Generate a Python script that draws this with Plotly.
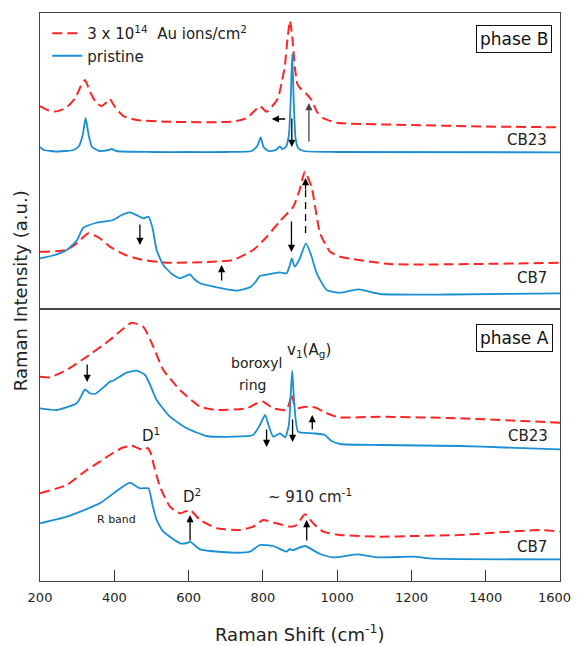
import plotly.graph_objects as go

# ---------------- data (Raman shift in cm^-1, intensity in arbitrary units) ----------------
# Phase B, CB23
b23_pr_x = [200, 210, 250, 290, 305, 315, 323, 331, 340, 360, 385, 393, 405, 500, 600, 700, 770, 785, 794, 802,
            815, 835, 846, 852, 862, 870, 875, 879, 883, 888, 895, 910, 1000, 1600]
b23_pr_y = [162, 159, 157.5, 159, 163, 174, 191, 174, 162, 158, 159, 160, 158, 157, 157, 157, 158, 163, 171.5, 162,
            158, 159, 162.5, 160, 162, 174, 209, 255, 209, 171, 161, 158, 157, 156.7]
b23_irr_x = [200, 220, 240, 270, 295, 310, 321, 335, 350, 365, 380, 388, 400, 424, 460, 540, 720, 757, 780, 792,
             810, 828, 841, 852, 859, 866, 873, 880, 886, 893, 900, 915, 931, 946, 962, 999, 1200, 1400, 1600]
b23_irr_y = [203, 199, 197.5, 201, 211, 223, 229, 217, 207, 203, 207, 210, 203, 193, 189, 187.3, 187.3, 191, 199, 203,
             197.3, 204, 211, 229, 242, 269, 288.3, 269, 242, 225, 221, 216, 209, 197, 191, 186.3, 184, 182.5, 181.7]

# Phase B, CB7
b7_pr_x = [200, 240, 272, 300, 316, 350, 397, 420, 442, 465, 478, 492, 503, 514, 532, 555, 577, 592, 604, 615,
           631, 676, 729, 765, 780, 792, 820, 846, 864, 872, 878, 886, 900, 916, 930, 945, 972, 1008, 1057, 1115,
           1300, 1600]
b7_pr_y = [50.7, 54, 59, 69, 81, 86, 89, 94, 96.7, 93, 90.7, 92.3, 81, 59, 44, 35, 30.7, 33, 34.7, 30,
           25.7, 21.7, 18.3, 21.7, 27, 33, 35, 36.7, 35.7, 43, 50.7, 42.3, 51, 65.7, 54, 35.7, 19, 16.3, 19.7, 15,
           14.5, 15.7]
b7_irr_x = [200, 272, 300, 330, 360, 388, 430, 469, 541, 650, 720, 774, 810, 846, 882, 899, 913, 931, 954, 981,
            1008, 1142, 1600]
b7_irr_y = [57.3, 59, 66, 75.7, 71, 62.3, 54, 49.7, 46.3, 47, 49, 59, 72, 88, 102.3, 119, 137.3, 122.3, 75.7, 57.3,
            52.3, 45, 46.3]

# Phase A, CB23
a23_pr_x = [200, 245, 299, 315, 321, 333, 348, 375, 388, 397, 433, 460, 483, 500, 514, 550, 595, 649, 720, 774,
            792, 806, 815, 828, 846, 860, 870, 875, 879, 884, 895, 936, 967, 985, 1008, 1115, 1330, 1450, 1600]
a23_pr_y = [172.7, 171, 177.7, 188, 191.7, 188, 187, 195, 199.3, 200.3, 208.3, 210.3, 206, 193, 181, 164.3, 152.7,
            145, 144.3, 146, 156, 166, 156, 144.3, 147.7, 143.7, 156, 186, 210.3, 181, 149.3, 147.7, 146, 140, 137,
            136, 135, 133.5, 131.7]
a23_irr_x = [200, 227, 272, 326, 388, 420, 447, 478, 505, 532, 577, 631, 676, 756, 780, 801, 828, 864, 872, 878,
             884, 891, 910, 927, 945, 963, 1003, 1115, 1330, 1600]
a23_irr_y = [204.3, 203.7, 211, 224.3, 241, 251, 258.3, 254.3, 234.3, 211, 191, 174.3, 171, 172.7, 177, 179.3, 172.7,
             171, 179, 187, 177, 172.7, 174, 174.3, 173, 169.3, 163.7, 164.3, 162.7, 158.3]

# Phase A, CB7
a7_pr_x = [200, 272, 361, 410, 442, 469, 492, 503, 514, 532, 577, 596, 604, 631, 720, 765, 792, 828, 864, 872,
           877, 882, 913, 954, 990, 1057, 1106, 1205, 1259, 1600]
a7_pr_y = [57.7, 64.3, 77.7, 91, 98.3, 92.7, 92.7, 76, 61, 49.3, 37.7, 38, 39.3, 31.7, 28.3, 29.3, 36, 35, 29.3, 32,
           31, 31, 35, 27, 23.7, 26.7, 23.7, 24.3, 22.3, 21.7]
a7_irr_x = [200, 272, 326, 361, 388, 420, 447, 470, 480, 490, 500, 505, 523, 550, 577, 604, 631, 676, 738, 774,
            801, 836, 873, 891, 913, 940, 963, 1008, 1115, 1205, 1328, 1400, 1546, 1600]
a7_irr_y = [87.7, 96, 111, 119.3, 126, 133, 135.3, 132, 131, 133, 126, 117.7, 94.3, 74.3, 67.7, 71, 61, 52.7, 51, 54.3,
            61, 57.7, 54.3, 56, 66.7, 56, 49.3, 46, 44.3, 45, 46, 47.7, 51, 49.3]

x_ticks = [200, 400, 600, 800, 1000, 1200, 1400, 1600]
x_tick_labels = ["200", "400", "600", "800", "1000", "1200", "1400", "1600"]
legend_irr = "3 x 10<sup>14</sup>  Au ions/cm<sup>2</sup>"
legend_pr = "pristine"

RED = "#ff2424"
BLUE = "#1b8fd4"
FONT = "DejaVu Sans"

fig = go.Figure()

def add(x, y, irr, xa, ya, show):
    fig.add_trace(go.Scatter(
        x=x, y=y, mode="lines", xaxis=xa, yaxis=ya,
        name=legend_irr if irr else legend_pr,
        legendgroup="irr" if irr else "pr", showlegend=show,
        line=dict(color=RED if irr else BLUE, width=2 if irr else 1.8,
                  dash="10px,5px" if irr else "solid", shape="spline", smoothing=0.5),
        hoverinfo="skip"))

add(b23_irr_x, b23_irr_y, True, "x2", "y2", True)
add(b23_pr_x, b23_pr_y, False, "x2", "y2", True)
add(b7_irr_x, b7_irr_y, True, "x2", "y2", False)
add(b7_pr_x, b7_pr_y, False, "x2", "y2", False)
add(a23_irr_x, a23_irr_y, True, "x", "y", False)
add(a23_pr_x, a23_pr_y, False, "x", "y", False)
add(a7_irr_x, a7_irr_y, True, "x", "y", False)
add(a7_pr_x, a7_pr_y, False, "x", "y", False)

annotations = []

def arrow(xh, yh, xt, yt, xa, ya, color="black"):
    annotations.append(dict(x=xh, y=yh, ax=xt, ay=yt, xref=xa, yref=ya, axref=xa, ayref=ya,
                            showarrow=True, arrowhead=2, arrowsize=1.1, arrowwidth=1.3,
                            arrowcolor=color, text=""))

def label(x, y, text, xa, ya, size=14):
    annotations.append(dict(x=x, y=y, xref=xa, yref=ya, text=text, showarrow=False,
                            xanchor="center", yanchor="middle",
                            font=dict(family=FONT, size=size, color="#222")))

# phase B arrows
arrow(824, 190, 864, 190, "x2", "y2")
arrow(878, 162, 878, 192, "x2", "y2")
arrow(924, 206, 924, 166, "x2", "y2", "#444")
arrow(469, 64, 469, 86, "x2", "y2")
arrow(689, 44, 689, 27, "x2", "y2")
arrow(877, 57, 877, 89, "x2", "y2")
arrow(915, 131, 915, 118, "x2", "y2")
# phase A arrows
arrow(327, 199, 327, 218, "x", "y")
arrow(810, 134, 810, 153, "x", "y")
arrow(880, 139, 880, 163, "x", "y")
arrow(933, 166, 933, 150, "x", "y")
arrow(604, 66, 604, 39, "x", "y")
arrow(918, 61, 918, 39, "x", "y")

# labels
label(1511, 169, "CB23", "x2", "y2", 15)
label(1524, 31, "CB7", "x2", "y2", 15)
label(1514, 145, "CB23", "x", "y", 15)
label(1524, 34, "CB7", "x", "y", 15)
label(783, 218, "boroxyl", "x", "y")
label(773, 196, "ring", "x", "y")
label(924, 231, "v<sub>1</sub>(A<sub>g</sub>)", "x", "y", 15)
label(499, 146, "D<sup>1</sup>", "x", "y", 15)
label(609, 85, "D<sup>2</sup>", "x", "y", 15)
label(407, 62, "R band", "x", "y", 11)
label(927, 85, "~ 910 cm<sup>-1</sup>", "x", "y", 15)

# the last tick label sits at the figure edge; draw it right-aligned so it stays visible
annotations.append(dict(x=x_ticks[-1], y=0, xref="x", yref="paper", text=x_tick_labels[-1], showarrow=False,
                        xanchor="right", yanchor="middle", xshift=13, yshift=-16,
                        font=dict(family=FONT, size=13, color="#222")))
shown_tick_labels = x_tick_labels[:-1] + [""]

# phase boxes
for txt, yp in (("phase B", 0.954), ("phase A", 0.428)):
    annotations.append(dict(x=0.912, y=yp, xref="paper", yref="paper", text=txt, showarrow=False,
                            xanchor="center", yanchor="middle",
                            font=dict(family=FONT, size=17, color="#111"),
                            bordercolor="#111", borderwidth=1, borderpad=3, bgcolor="white"))

# axis titles
annotations.append(dict(x=-0.0385, y=0.512, xref="paper", yref="paper", text="Raman Intensity (a.u.)",
                        xanchor="center", yanchor="middle",
                        textangle=-90, showarrow=False, font=dict(family=FONT, size=18, color="#222")))
annotations.append(dict(x=0.5, y=-0.092, xref="paper", yref="paper", text="Raman Shift (cm<sup>-1</sup>)",
                        xanchor="center", yanchor="middle",
                        showarrow=False, font=dict(family=FONT, size=18, color="#222")))

shapes = [dict(type="line", xref="x2", yref="y2", x0=915, x1=915, y0=76, y1=122,
               line=dict(color="black", width=1.3, dash="7px,5px"))]

split = 272 / 568
axline = dict(showline=True, linecolor="#444", linewidth=1.3, mirror=True, showgrid=False, zeroline=False)

fig.update_layout(
    width=573, height=646, autosize=False,
    margin=dict(l=40, r=13, t=13, b=65),
    paper_bgcolor="white", plot_bgcolor="white",
    font=dict(family=FONT, size=13, color="#222"),
    xaxis=dict(domain=[0, 1], anchor="y", range=[200, 1600], tickvals=x_ticks, ticktext=shown_tick_labels,
               ticks="inside", ticklen=11, tickwidth=1.3, tickcolor="#333", ticklabelstandoff=4,
               tickfont=dict(family=FONT, size=13, color="#222"), **axline),
    yaxis=dict(domain=[0, split], anchor="x", range=[0, 272], showticklabels=False, ticks="", **axline),
    xaxis2=dict(domain=[0, 1], anchor="y2", matches="x", range=[200, 1600], showticklabels=False, ticks="", **axline),
    yaxis2=dict(domain=[split, 1], anchor="x2", range=[0, 296], showticklabels=False, ticks="", **axline),
    showlegend=True,
    legend=dict(x=0.014, y=0.993, xanchor="left", yanchor="top", bgcolor="rgba(0,0,0,0)",
                font=dict(family=FONT, size=15, color="#222"), tracegroupgap=0, itemwidth=30),
    annotations=annotations,
    shapes=shapes,
)

# remove the default page margin so the figure starts at the window's top-left corner
post = "document.body.style.margin='0';document.body.style.overflow='hidden';"
fig.write_html("out.html", config={"displayModeBar": False}, post_script=post)
